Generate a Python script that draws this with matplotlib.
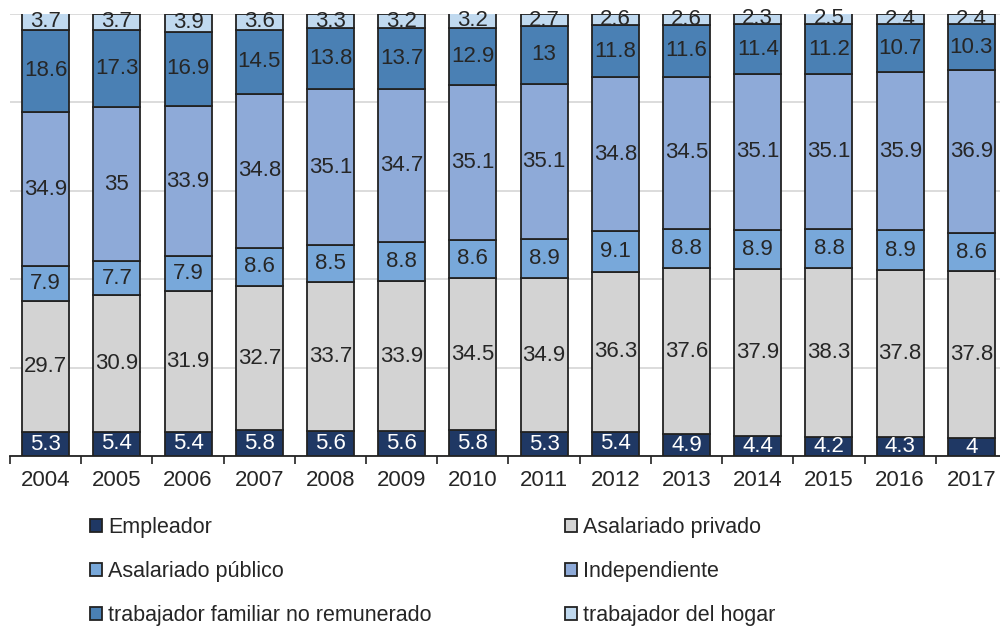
import matplotlib.pyplot as plt
import numpy as np

plt.rcParams['font.family'] = ['Liberation Sans', 'DejaVu Sans']

years = ['2004', '2005', '2006', '2007', '2008', '2009', '2010',
         '2011', '2012', '2013', '2014', '2015', '2016', '2017']

empleador = [5.3, 5.4, 5.4, 5.8, 5.6, 5.6, 5.8, 5.3, 5.4, 4.9, 4.4, 4.2, 4.3, 4]
privado = [29.7, 30.9, 31.9, 32.7, 33.7, 33.9, 34.5, 34.9, 36.3, 37.6, 37.9, 38.3, 37.8, 37.8]
publico = [7.9, 7.7, 7.9, 8.6, 8.5, 8.8, 8.6, 8.9, 9.1, 8.8, 8.9, 8.8, 8.9, 8.6]
independiente = [34.9, 35, 33.9, 34.8, 35.1, 34.7, 35.1, 35.1, 34.8, 34.5, 35.1, 35.1, 35.9, 36.9]
familiar = [18.6, 17.3, 16.9, 14.5, 13.8, 13.7, 12.9, 13, 11.8, 11.6, 11.4, 11.2, 10.7, 10.3]
hogar = [3.7, 3.7, 3.9, 3.6, 3.3, 3.2, 3.2, 2.7, 2.6, 2.6, 2.3, 2.5, 2.4, 2.4]

series = [
    ('Empleador', empleador, '#1f3864', 'white'),
    ('Asalariado privado', privado, '#d3d3d3', '#262626'),
    ('Asalariado público', publico, '#78a8da', '#262626'),
    ('Independiente', independiente, '#8eaad8', '#262626'),
    ('trabajador familiar no remunerado', familiar, '#4a80b4', '#262626'),
    ('trabajador del hogar', hogar, '#c0d9ef', '#262626'),
]

fig = plt.figure(figsize=(10, 6.28), dpi=100)
ax = fig.add_axes([0.01, 0.274, 0.997, 0.704])

x = np.arange(len(years))
bottom = np.zeros(len(years))
handles = []
for name, vals, color, tcol in series:
    vals = np.array(vals, dtype=float)
    bars = ax.bar(x, vals, 0.66, bottom=bottom, color=color,
                  edgecolor='#222222', linewidth=1.3, label=name, zorder=3)
    handles.append(bars)
    for xi, b, v in zip(x, bottom, vals):
        ax.text(xi, b + v / 2, '%g' % v, ha='center', va='center',
                fontsize=16, color=tcol, zorder=4)
    bottom += vals

ax.set_xlim(-0.5, len(years) - 0.5)
ax.set_ylim(0, 100)
ax.set_yticks([0, 20, 40, 60, 80, 100])
ax.yaxis.grid(True, color='#d9d9d9', linewidth=1.3, zorder=0)
ax.tick_params(axis='y', left=False, labelleft=False)
ax.set_xticks(x)
ax.set_xticklabels(years, fontsize=16, color='#262626')
ax.set_xticks(np.arange(-0.5, len(years), 1), minor=True)
ax.tick_params(axis='x', which='major', length=0, pad=10)
ax.tick_params(axis='x', which='minor', length=6, width=1.2, color='#222222')
for s in ['top', 'right', 'left']:
    ax.spines[s].set_visible(False)
ax.spines['bottom'].set_color('#222222')
ax.spines['bottom'].set_linewidth(1.3)

# legend filled row by row, as in the original
order = [0, 2, 4, 1, 3, 5]
fig.legend(handles=[handles[i] for i in order],
           labels=[series[i][0] for i in order], loc='upper left',
           bbox_to_anchor=(0.09, 0.177), ncol=2, frameon=False,
           borderpad=0, borderaxespad=0,
           fontsize=15.5, handlelength=0.57, handleheight=0.57, handletextpad=0.27,
           columnspacing=6.2, labelspacing=1.08, labelcolor='#262626')

fig.savefig('out.png', dpi=100)
